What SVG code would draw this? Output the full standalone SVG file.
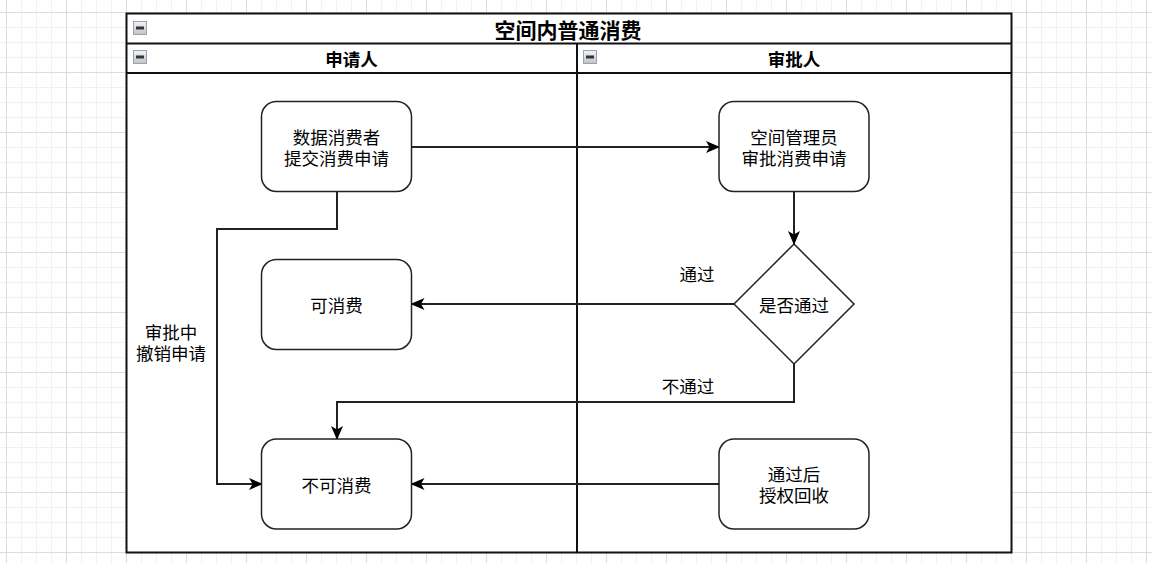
<svg xmlns="http://www.w3.org/2000/svg" width="1152" height="563" viewBox="0 0 1152 563">
<defs>
<pattern id="grid" x="6" y="12" width="60" height="60" patternUnits="userSpaceOnUse">
<rect width="60" height="60" fill="#ffffff"/>
<path d="M15.5,0V60M30.5,0V60M45.5,0V60M0,15.5H60M0,30.5H60M0,45.5H60" stroke="#f1f1f1" stroke-width="1" fill="none"/>
<path d="M0.5,0V60M0,0.5H60" stroke="#dcdcdc" stroke-width="1" fill="none"/>
</pattern>
<linearGradient id="ig" x1="0" y1="0" x2="0" y2="1">
<stop offset="0" stop-color="#f4f4f4"/>
<stop offset="1" stop-color="#bfc3c8"/>
</linearGradient>
<marker id="arr" viewBox="0 0 14 12" refX="13" refY="6" markerWidth="14" markerHeight="12" markerUnits="userSpaceOnUse" orient="auto">
<path d="M0,0 L14,6 L0,12 L3.5,6 Z" fill="#000"/>
</marker>
<g id="icon">
<rect x="0.5" y="0.5" width="13" height="13" fill="url(#ig)" stroke="#9aa2b0" stroke-width="1"/>
<rect x="3" y="5.5" width="8" height="3" fill="#333"/>
</g>
</defs>
<style>
.node{fill:#fff;stroke:#222;stroke-width:1.5}
.t{font-family:"Noto Sans CJK SC","Liberation Sans",sans-serif;font-size:17.5px;fill:#000;text-anchor:middle;dominant-baseline:central}
.h{font-family:"Noto Sans CJK SC","Liberation Sans",sans-serif;font-weight:bold;fill:#000;text-anchor:middle;dominant-baseline:central}
.e{fill:none;stroke:#222;stroke-width:2}
.pool{fill:none;stroke:#111;stroke-width:2}
</style>
<rect width="1152" height="563" fill="url(#grid)"/>
<g id="pool">
<rect x="126.5" y="13.5" width="885" height="539" fill="#fff" stroke="none"/>
<rect x="126.5" y="13.5" width="885" height="539" class="pool"/>
<line x1="126.5" y1="43.5" x2="1011.5" y2="43.5" class="pool"/>
<line x1="126.5" y1="73" x2="1011.5" y2="73" class="pool"/>
<line x1="577" y1="43.5" x2="577" y2="552.5" class="pool"/>
<use href="#icon" x="133" y="21"/>
<use href="#icon" x="133" y="50"/>
<use href="#icon" x="583" y="50"/>
<text class="h" x="568" y="29" style="font-size:21px">空间内普通消费</text>
<text class="h" x="351.5" y="58" style="font-size:17.5px">申请人</text>
<text class="h" x="794" y="58" style="font-size:17.5px">审批人</text>
</g>
<g id="connectors">
<path class="e" d="M411.5,147 H719" marker-end="url(#arr)"/>
<path class="e" d="M794,191.5 V244" marker-end="url(#arr)"/>
<path class="e" d="M734,304 H411.5" marker-end="url(#arr)"/>
<path class="e" d="M794,364 V402 H337 V439" marker-end="url(#arr)"/>
<path class="e" d="M719,484 H411.5" marker-end="url(#arr)"/>
<path class="e" d="M337,191.5 V229 H217 V484 H262" marker-end="url(#arr)"/>
<text class="t" x="697" y="273">通过</text>
<text class="t" x="688" y="385">不通过</text>
<text class="t"><tspan x="171" y="331">审批中</tspan><tspan x="171" y="352">撤销申请</tspan></text>
</g>
<g id="n1">
<rect class="node" x="261.5" y="101.5" width="150" height="90" rx="15"/>
<text class="t"><tspan x="336.5" y="136">数据消费者</tspan><tspan x="336.5" y="157">提交消费申请</tspan></text>
</g>
<g id="n2">
<rect class="node" x="719" y="101.5" width="150" height="90" rx="15"/>
<text class="t"><tspan x="794" y="136">空间管理员</tspan><tspan x="794" y="157">审批消费申请</tspan></text>
</g>
<g id="n3">
<path class="node" d="M794,244 L854,304 L794,364 L734,304 Z"/>
<text class="t" x="794" y="304">是否通过</text>
</g>
<g id="n4">
<rect class="node" x="261.5" y="259.5" width="150" height="90" rx="15"/>
<text class="t" x="336.5" y="304.5">可消费</text>
</g>
<g id="n5">
<rect class="node" x="261.5" y="439" width="150" height="90" rx="15"/>
<text class="t" x="336.5" y="484">不可消费</text>
</g>
<g id="n6">
<rect class="node" x="719" y="439" width="150" height="90" rx="15"/>
<text class="t"><tspan x="794" y="473">通过后</tspan><tspan x="794" y="494">授权回收</tspan></text>
</g>
</svg>
